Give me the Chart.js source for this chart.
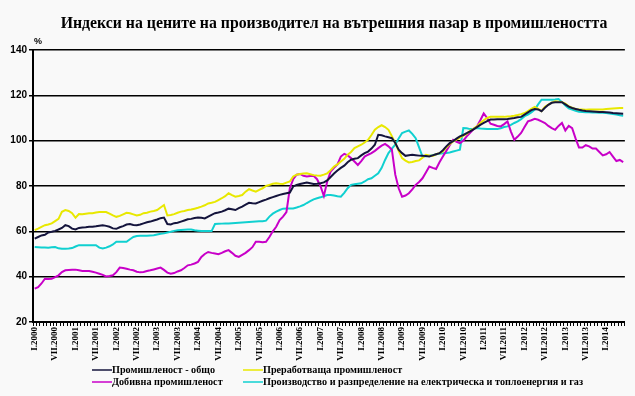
<!DOCTYPE html>
<html>
<head>
<meta charset="utf-8">
<script src="https://cdn.jsdelivr.net/npm/chart.js@4"></script>
<style>
  body { margin: 0; background: #f9f9f9; }
  #wrap { width: 635px; height: 396px; }
</style>
</head>
<body>
<div id="wrap"><canvas id="ppi" width="635" height="396"></canvas></div>
<script>
// month names and years for the category axis
const romanMonths = ['I', 'II', 'III', 'IV', 'V', 'VI', 'VII', 'VIII', 'IX', 'X', 'XI', 'XII'];
const years = [2000, 2001, 2002, 2003, 2004, 2005, 2006, 2007, 2008, 2009, 2010, 2011, 2012, 2013, 2014];
const monthCount = 174; // I.2000 - VI.2014

const yTicks = [20, 40, 60, 80, 100, 120, 140];

const seriesNames = [
    'Промишленост - общо',
    'Преработваща промишленост',
    'Добивна промишленост',
    'Производство и разпределение на електрическа и топлоенергия и газ'
];

// Промишленост - общо
const total = [
    56.8, 57.5, 58.2, 58.5, 59.5, 59.8, 60.2, 60.8, 61.5, 62.7, 62.3, 61.2,
    60.8, 61.5, 61.7, 61.8, 62.0, 62.0, 62.2, 62.5, 62.7, 62.4, 62.0, 61.3,
    61.1, 61.8, 62.3, 63.0, 63.2, 62.8, 62.7, 63.0, 63.5, 64.0, 64.3, 64.8,
    65.2, 65.8, 66.1, 63.2, 63.0, 63.6, 63.8, 64.3, 64.8, 65.3, 65.5, 65.9,
    66.1, 66.0, 65.7, 66.5, 67.3, 68.0, 68.3, 68.7, 69.3, 70.0, 69.7, 69.4,
    70.2, 70.9, 71.8, 72.6, 72.4, 72.3, 72.9, 73.5, 74.0, 74.6, 75.1, 75.6,
    76.1, 76.5, 76.8, 77.1, 79.8, 80.5, 80.9, 81.2, 81.5, 81.2, 80.9, 81.0,
    81.2, 81.6, 82.5, 84.0, 85.5, 86.8, 88.0, 89.0, 90.5, 91.6, 92.0, 92.3,
    93.5, 94.5, 95.2, 96.5, 98.2, 102.6, 102.4, 101.9, 101.5, 101.1, 99.0, 96.0,
    94.5, 93.3, 93.6, 93.8, 93.6, 93.4, 93.3, 93.2, 93.0, 93.5, 94.0, 94.5,
    95.8, 97.5, 98.9, 99.8, 100.9, 101.9, 102.5, 103.3, 104.1, 105.0, 106.0, 107.0,
    107.8, 108.6, 109.3, 109.3, 109.4, 109.5, 109.5, 109.6, 109.8, 110.0, 110.3, 110.5,
    111.5, 112.5, 113.5, 114.0, 113.8, 113.0, 114.5, 115.8, 116.7, 116.9, 117.0, 117.0,
    116.0, 115.0, 114.4, 114.0, 113.6, 113.3, 113.1, 113.0, 112.9, 112.8, 112.7, 112.6,
    112.5, 112.4, 112.2, 112.1, 112.0, 111.9
];

// Преработваща промишленост
const manufacturing = [
    60.5, 61.2, 62.0, 62.7, 63.0, 63.5, 64.5, 65.5, 68.6, 69.4, 69.0, 68.0,
    66.0, 67.6, 67.5, 67.8, 68.0, 68.0, 68.3, 68.5, 68.5, 68.5, 67.8, 67.0,
    66.4, 66.8, 67.5, 68.2, 68.0, 67.5, 67.0, 67.3, 68.0, 68.2, 68.7, 69.0,
    69.4, 70.5, 71.6, 67.0, 67.2, 67.6, 68.2, 68.7, 69.0, 69.4, 69.6, 70.0,
    70.4, 70.9, 71.5, 72.3, 72.6, 73.0, 73.8, 74.6, 75.5, 76.8, 76.0, 75.3,
    75.6, 76.0, 77.5, 78.6, 78.0, 77.5, 78.3, 79.0, 80.0, 80.5, 81.0, 81.2,
    81.0, 80.9, 81.5, 82.0, 84.2, 85.0, 85.3, 85.5, 85.6, 85.2, 84.8, 84.6,
    84.5, 85.0, 85.6, 87.0, 88.6, 89.5, 90.8, 92.0, 93.8, 95.0, 96.7, 97.5,
    98.2, 99.2, 100.4, 102.5, 104.8, 106.0, 106.8, 106.0, 104.8, 102.0, 98.9, 95.5,
    92.3, 91.2, 90.4, 90.6, 91.0, 91.3, 92.5, 93.8, 93.5, 93.3, 94.0, 94.5,
    95.2, 97.0, 98.5, 99.7, 100.5, 101.3, 102.2, 103.0, 104.5, 105.2, 106.3, 107.8,
    109.0, 110.0, 110.5, 110.5, 110.6, 110.5, 110.5, 110.7, 110.8, 111.0, 111.3, 111.7,
    112.2, 113.0, 114.0, 114.9, 114.0, 113.0, 115.0, 115.9, 116.8, 117.4, 117.2, 117.0,
    116.3, 115.2, 114.5, 114.0, 113.7, 113.7, 113.6, 113.7, 113.7, 113.8, 113.7, 113.8,
    114.0, 114.1, 114.2, 114.3, 114.4, 114.4
];

// Добивна промишленост
const mining = [
    34.7, 35.4, 37.0, 39.1, 39.0, 39.1, 39.8, 40.6, 42.0, 42.8, 42.9, 43.0,
    43.1, 42.8, 42.5, 42.5, 42.5, 42.2, 41.8, 41.3, 40.8, 40.1, 40.3, 40.6,
    42.0, 44.0, 43.8, 43.5, 43.1, 42.8, 42.2, 41.9, 42.1, 42.5, 42.8, 43.2,
    43.6, 44.0, 43.0, 41.8, 41.3, 41.6, 42.3, 42.8, 43.8, 45.0, 45.3, 45.8,
    46.5, 48.7, 50.0, 50.9, 50.5, 50.2, 49.9, 50.5, 51.2, 51.7, 50.5, 49.2,
    48.7, 49.6, 50.5, 51.7, 53.0, 55.4, 55.4, 55.2, 55.4, 57.5, 60.0, 62.0,
    65.0, 66.5, 68.5, 79.0, 83.0, 85.0, 85.3, 84.5, 84.2, 84.4, 84.5, 83.0,
    80.0, 75.6, 82.0, 86.4, 88.0, 89.5, 93.0, 94.2, 93.5, 92.3, 90.8, 89.3,
    91.0, 93.0, 93.8, 94.5, 95.5, 96.7, 97.8, 98.6, 97.5, 96.0, 85.0, 79.0,
    75.3, 75.8, 76.8, 78.5, 80.5, 81.8, 83.4, 86.0, 88.6, 88.0, 87.5, 90.5,
    93.0, 95.5, 98.0, 100.4, 99.5, 98.9, 100.0, 101.9, 103.5, 105.0, 106.3, 109.0,
    112.0, 110.0, 107.5, 107.0, 106.5, 106.3, 107.3, 108.5, 104.0, 100.4, 101.8, 103.4,
    106.0, 108.5, 109.0, 109.6, 109.2, 108.5, 107.8, 106.5, 105.5, 104.8, 106.5, 107.8,
    104.5, 106.5, 105.5, 101.0, 97.0, 97.0, 98.0, 97.5, 96.5, 96.5, 95.0, 93.5,
    94.0, 95.0, 93.0, 91.0, 91.5, 90.5
];

// Производство и разпределение на електрическа и топлоенергия и газ
const energy = [
    53.1, 53.0, 52.9, 52.9, 52.8, 53.0, 53.1, 52.5, 52.3, 52.3, 52.4, 52.6,
    53.3, 53.9, 53.9, 53.9, 53.9, 53.9, 53.9, 52.8, 52.4, 52.8, 53.4, 54.2,
    55.4, 55.4, 55.4, 55.4, 56.5, 57.5, 57.9, 58.0, 58.0, 58.1, 58.2, 58.3,
    58.6, 58.9, 59.1, 59.5, 59.8, 60.2, 60.5, 60.6, 60.7, 60.8, 60.8, 60.5,
    60.3, 60.1, 60.1, 60.1, 60.1, 63.2, 63.3, 63.4, 63.5, 63.5, 63.6, 63.7,
    63.8, 63.9, 64.0, 64.1, 64.2, 64.3, 64.4, 64.5, 64.7, 66.5, 67.8, 68.7,
    69.4, 70.0, 70.1, 70.1, 70.1, 70.5, 71.0, 71.6, 72.5, 73.3, 74.1, 74.6,
    75.0, 75.5, 76.0, 76.0, 75.8, 75.5, 75.3, 77.0, 79.0, 80.5, 80.8, 81.0,
    81.2, 82.0, 83.0, 83.4, 84.5, 85.6, 88.0, 91.5, 94.5, 96.5, 98.2, 101.0,
    103.4, 104.0, 104.5, 103.0, 101.1, 97.0, 93.0, 93.1, 93.3, 93.6, 94.0, 94.2,
    94.4, 94.6, 94.8, 95.2, 95.6, 96.0, 105.6, 105.5, 105.1, 105.3, 105.6, 105.4,
    105.3, 105.1, 105.1, 105.1, 105.1, 105.5, 106.0, 106.3, 107.0, 107.8, 108.5, 109.5,
    110.8, 111.5, 112.5, 113.7, 116.0, 118.1, 118.1, 118.1, 118.1, 118.2, 118.4, 117.0,
    115.5, 114.2, 113.7, 113.2, 112.8, 112.6, 112.5, 112.5, 112.4, 112.4, 112.3, 112.3,
    112.2, 112.0, 111.8, 111.5, 111.2, 111.0
];

const colors = ['#14143c', '#e8e800', '#c800c8', '#10d0d0'];

const labels = [];
years.forEach(function(y) {
    romanMonths.forEach(function(m) { labels.push(m + '.' + y); });
});
labels.length = monthCount;

// title, % sign and the two-column legend
const decorations = {
    id: 'decorations',
    afterDraw: function(chart) {
        const ctx = chart.ctx;
        ctx.save();
        ctx.fillStyle = '#000';
        ctx.textBaseline = 'middle';
        ctx.textAlign = 'center';
        ctx.font = 'bold 15.8px "Liberation Serif"';
        ctx.fillText('Индекси на цените на производител на вътрешния пазар в промишлеността', 334, 24);

        ctx.textAlign = 'left';
        ctx.font = 'bold 9px "Liberation Sans"';
        ctx.fillText('%', 34, 42);

        const slots = [[92, 370], [243, 370], [92, 382], [243, 382]];
        ctx.font = 'bold 10.2px "Liberation Serif"';
        slots.forEach(function(s, i) {
            ctx.strokeStyle = colors[i];
            ctx.lineWidth = 1.5;
            ctx.beginPath();
            ctx.moveTo(s[0], s[1]);
            ctx.lineTo(s[0] + 20, s[1]);
            ctx.stroke();
            ctx.fillText(seriesNames[i], s[0] + 20, s[1]);
        });
        ctx.restore();
    }
};

new Chart(document.getElementById('ppi'), {
    type: 'line',
    data: {
        labels: labels,
        datasets: [total, manufacturing, mining, energy].map(function(d, i) {
            return {
                label: seriesNames[i],
                data: d,
                borderColor: colors[i],
                borderWidth: 2,
                pointRadius: 0,
                tension: 0
            };
        })
    },
    options: {
        responsive: false,
        animation: false,
        layout: { padding: { top: 50, right: 8, bottom: 0, left: 0 } },
        plugins: {
            legend: { display: false },
            tooltip: { enabled: false }
        },
        scales: {
            x: {
                offset: true,
                grid: { drawOnChartArea: false, color: '#000', tickLength: 4, offset: true },
                border: { color: '#000', width: 2 },
                ticks: {
                    autoSkip: false,
                    minRotation: 90,
                    maxRotation: 90,
                    padding: 1,
                    color: '#000',
                    font: { family: 'Liberation Serif', weight: 'bold', size: 9 },
                    callback: function(v, i) { return i % 6 === 0 ? labels[i] : ''; }
                },
                afterFit: function(scale) { scale.height = 74; }
            },
            y: {
                min: yTicks[0],
                max: yTicks[yTicks.length - 1],
                afterBuildTicks: function(scale) {
                    scale.ticks = yTicks.map(function(v) { return { value: v }; });
                },
                grid: { color: '#000', lineWidth: 1.5, tickLength: 4 },
                border: { color: '#000', width: 2 },
                ticks: {
                    padding: 2,
                    color: '#000',
                    font: { family: 'Liberation Sans', weight: 'bold', size: 10 }
                },
                afterFit: function(scale) { scale.width = 33; }
            }
        }
    },
    plugins: [decorations]
});
</script>
</body>
</html>
